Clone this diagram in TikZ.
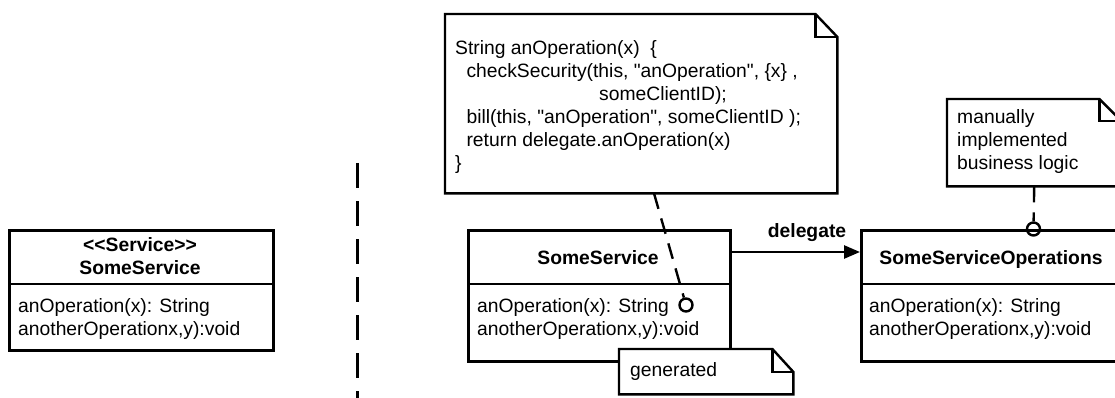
\documentclass[tikz,border=0pt]{standalone}
\usepackage{fontspec}
\newfontfamily\uml{Liberation Sans}
\usetikzlibrary{arrows.meta}
\tikzset{
  umlbox/.style={draw, line width=2.6pt, fill=white, inner sep=0pt, anchor=north west},
  txt/.style={font=\uml\fontsize{19.3}{22}\selectfont, inner sep=0pt, anchor=base west},
  btxt/.style={font=\uml\bfseries\fontsize{19.3}{22}\selectfont, inner sep=0pt, anchor=base},
  notebg/.style={draw=none, inner sep=0pt, anchor=north west},
  noteline/.style={line width=2.4pt, line join=miter},
  divline/.style={line width=2.2pt},
  dashcon/.style={line width=2.4pt, dash pattern=on 16pt off 10pt},
  sepline/.style={line width=2.4pt, dash pattern=on 25pt off 13pt},
  lollipop/.style={circle, draw, line width=2.4pt, minimum size=13pt, inner sep=0pt},
  assoc/.style={line width=2.6pt, -{Triangle[length=16pt,width=13pt]}},
}
\begin{document}
\begin{tikzpicture}[x=1pt,y=-1pt]
\useasboundingbox (0,0) rectangle (1115,398);
\clip (0,0) rectangle (1115,398);

% left box
\node[umlbox, minimum width=264pt, minimum height=120pt] (lbox) at (8,229) {};
\draw[divline] (8,284) -- (272,284);
\node[btxt] (lst) at (140,251) {<<Service>>};
\node[btxt] (lname) at (140,274) {SomeService};
\node[txt] (lop1) at (18,312) {anOperation(x): String};
\node[txt] (lop2) at (18,335) {anotherOperationx,y):void};

% separator
\draw[sepline] (357.5,163) -- (357.5,398);

% middle box
\node[umlbox, minimum width=262pt, minimum height=131pt] (mbox) at (467,229) {};
\draw[divline] (467,284) -- (729,284);
\node[btxt] (mname) at (598,264) {SomeService};
\node[txt] (mop1) at (477,312) {anOperation(x): String};
\node[txt] (mop2) at (477,335) {anotherOperationx,y):void};

% right box
\node[umlbox, minimum width=262pt, minimum height=131pt] (sbox) at (860,229) {};
\draw[divline] (860,284) -- (1122,284);
\node[btxt] (sname) at (991,264) {SomeServiceOperations};
\node[txt] (sop1) at (869,312) {anOperation(x): String};
\node[txt] (sop2) at (869,335) {anotherOperationx,y):void};

% delegate association
\draw[assoc] ([yshift=-23pt]mbox.north east) -- ([yshift=-23pt]sbox.north west);
\node[btxt] (dlabel) at (807,237) {delegate};

% big note
\node[notebg, minimum width=392pt, minimum height=179pt] (bnote) at (445,14) {};
\draw[noteline, fill=white] (bnote.north west) -- ([xshift=-22pt]bnote.north east)
  -- ([yshift=-23pt]bnote.north east) -- (bnote.south east) -- (bnote.south west) -- cycle;
\draw[noteline] ([xshift=-22pt]bnote.north east) |- ([yshift=-23pt]bnote.north east);
\node[txt] (b1) at (455,55) {String anOperation(x)\ \ \{};
\node[txt] (b2) at (461,78) {\ checkSecurity(this, "anOperation", \{x\} ,};
\node[txt] (b3) at (599,101) {someClientID);};
\node[txt] (b4) at (461,124) {\ bill(this, "anOperation", someClientID );};
\node[txt] (b5) at (461,147) {\ return delegate.anOperation(x)};
\node[txt] (b6) at (455,170) {\}};

% generated note
\node[notebg, minimum width=174pt, minimum height=45pt] (gnote) at (619,349) {};
\draw[noteline, fill=white] (gnote.north west) -- ([xshift=-21pt]gnote.north east)
  -- ([yshift=-23pt]gnote.north east) -- (gnote.south east) -- (gnote.south west) -- cycle;
\draw[noteline] ([xshift=-21pt]gnote.north east) |- ([yshift=-23pt]gnote.north east);
\node[txt] (g1) at (630,376) {generated};

% manual note
\node[notebg, minimum width=174pt, minimum height=87pt] (mnote) at (947,99) {};
\draw[noteline, fill=white] (mnote.north west) -- ([xshift=-22pt]mnote.north east)
  -- ([yshift=-22pt]mnote.north east) -- (mnote.south east) -- (mnote.south west) -- cycle;
\draw[noteline] ([xshift=-22pt]mnote.north east) |- ([yshift=-22pt]mnote.north east);
\node[txt] (m1) at (957,124) {manually};
\node[txt] (m2) at (957,147) {implemented};
\node[txt] (m3) at (957,170) {business logic};

% lollipops and note connectors
\node[lollipop] (c1) at (686,305) {};
\node[lollipop] (c2) at (1033.5,229) {};
\draw[dashcon] ([xshift=209pt]bnote.south west) -- (c1);
\draw[dashcon] (mnote.south) -- (c2);
\end{tikzpicture}
\end{document}
